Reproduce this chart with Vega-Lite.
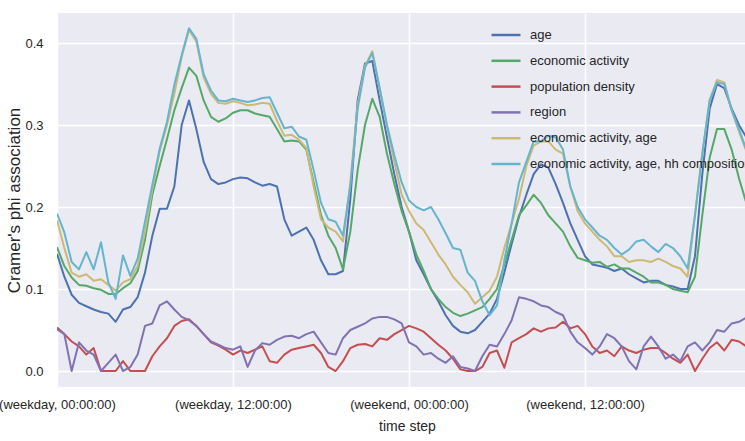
{
  "$schema": "https://vega.github.io/schema/vega-lite/v6.json",
  "autosize": {"type": "none"},
  "padding": {"left": 57, "top": 13, "right": 0, "bottom": 54},
  "width": 688,
  "height": 374,
  "background": "white",
  "config": {
    "view": {"fill": "#EAEAF2", "stroke": null},
    "font": "Liberation Sans",
    "axis": {
      "domain": false,
      "ticks": false,
      "tickSize": 0,
      "gridColor": "white",
      "gridWidth": 1.5,
      "labelColor": "#262626",
      "labelFontSize": 13,
      "labelFont": "Liberation Sans",
      "titleColor": "#262626",
      "titleFont": "Liberation Sans",
      "titleFontWeight": "normal"
    }
  },
  "data": {
    "values": [
      {"t":0,"a":0.143,"e":0.151,"p":0.053,"r":0.051,"ea":0.184,"eah":0.192},
      {"t":0.5,"a":0.115,"e":0.128,"p":0.045,"r":0.045,"ea":0.150,"eah":0.169},
      {"t":1,"a":0.093,"e":0.114,"p":0.036,"r":0.000,"ea":0.120,"eah":0.133},
      {"t":1.5,"a":0.083,"e":0.105,"p":0.030,"r":0.035,"ea":0.115,"eah":0.124},
      {"t":2,"a":0.079,"e":0.104,"p":0.020,"r":0.025,"ea":0.118,"eah":0.145},
      {"t":2.5,"a":0.075,"e":0.101,"p":0.028,"r":0.020,"ea":0.110,"eah":0.124},
      {"t":3,"a":0.072,"e":0.099,"p":0.000,"r":0.000,"ea":0.112,"eah":0.157},
      {"t":3.5,"a":0.070,"e":0.094,"p":0.000,"r":0.010,"ea":0.105,"eah":0.108},
      {"t":4,"a":0.060,"e":0.094,"p":0.000,"r":0.020,"ea":0.098,"eah":0.088},
      {"t":4.5,"a":0.075,"e":0.101,"p":0.012,"r":0.000,"ea":0.108,"eah":0.141},
      {"t":5,"a":0.078,"e":0.107,"p":0.000,"r":0.005,"ea":0.112,"eah":0.116},
      {"t":5.5,"a":0.090,"e":0.122,"p":0.000,"r":0.020,"ea":0.128,"eah":0.137},
      {"t":6,"a":0.120,"e":0.160,"p":0.000,"r":0.055,"ea":0.170,"eah":0.182},
      {"t":6.5,"a":0.165,"e":0.215,"p":0.018,"r":0.058,"ea":0.222,"eah":0.227},
      {"t":7,"a":0.198,"e":0.250,"p":0.030,"r":0.080,"ea":0.268,"eah":0.271},
      {"t":7.5,"a":0.198,"e":0.283,"p":0.040,"r":0.085,"ea":0.300,"eah":0.304},
      {"t":8,"a":0.225,"e":0.318,"p":0.055,"r":0.075,"ea":0.338,"eah":0.349},
      {"t":8.5,"a":0.300,"e":0.345,"p":0.061,"r":0.066,"ea":0.383,"eah":0.385},
      {"t":9,"a":0.330,"e":0.370,"p":0.063,"r":0.062,"ea":0.416,"eah":0.418},
      {"t":9.5,"a":0.295,"e":0.360,"p":0.055,"r":0.055,"ea":0.402,"eah":0.405},
      {"t":10,"a":0.255,"e":0.330,"p":0.045,"r":0.045,"ea":0.358,"eah":0.362},
      {"t":10.5,"a":0.234,"e":0.310,"p":0.035,"r":0.036,"ea":0.338,"eah":0.342},
      {"t":11,"a":0.228,"e":0.304,"p":0.031,"r":0.032,"ea":0.327,"eah":0.330},
      {"t":11.5,"a":0.230,"e":0.308,"p":0.026,"r":0.028,"ea":0.326,"eah":0.329},
      {"t":12,"a":0.234,"e":0.315,"p":0.020,"r":0.026,"ea":0.329,"eah":0.332},
      {"t":12.5,"a":0.236,"e":0.318,"p":0.025,"r":0.030,"ea":0.327,"eah":0.330},
      {"t":13,"a":0.235,"e":0.318,"p":0.022,"r":0.005,"ea":0.324,"eah":0.328},
      {"t":13.5,"a":0.230,"e":0.314,"p":0.026,"r":0.025,"ea":0.325,"eah":0.330},
      {"t":14,"a":0.226,"e":0.312,"p":0.030,"r":0.034,"ea":0.327,"eah":0.333},
      {"t":14.5,"a":0.228,"e":0.310,"p":0.012,"r":0.032,"ea":0.326,"eah":0.334},
      {"t":15,"a":0.225,"e":0.295,"p":0.010,"r":0.038,"ea":0.305,"eah":0.315},
      {"t":15.5,"a":0.185,"e":0.280,"p":0.020,"r":0.042,"ea":0.287,"eah":0.296},
      {"t":16,"a":0.165,"e":0.281,"p":0.026,"r":0.043,"ea":0.288,"eah":0.298},
      {"t":16.5,"a":0.170,"e":0.280,"p":0.028,"r":0.040,"ea":0.282,"eah":0.286},
      {"t":17,"a":0.175,"e":0.270,"p":0.030,"r":0.045,"ea":0.272,"eah":0.282},
      {"t":17.5,"a":0.160,"e":0.230,"p":0.032,"r":0.048,"ea":0.225,"eah":0.245},
      {"t":18,"a":0.135,"e":0.190,"p":0.022,"r":0.035,"ea":0.185,"eah":0.205},
      {"t":18.5,"a":0.118,"e":0.165,"p":0.005,"r":0.022,"ea":0.175,"eah":0.185},
      {"t":19,"a":0.118,"e":0.150,"p":0.000,"r":0.020,"ea":0.170,"eah":0.182},
      {"t":19.5,"a":0.122,"e":0.124,"p":0.012,"r":0.040,"ea":0.158,"eah":0.165},
      {"t":20,"a":0.210,"e":0.170,"p":0.028,"r":0.050,"ea":0.230,"eah":0.225},
      {"t":20.5,"a":0.330,"e":0.245,"p":0.032,"r":0.054,"ea":0.325,"eah":0.320},
      {"t":21,"a":0.375,"e":0.300,"p":0.033,"r":0.058,"ea":0.372,"eah":0.370},
      {"t":21.5,"a":0.378,"e":0.332,"p":0.030,"r":0.064,"ea":0.390,"eah":0.388},
      {"t":22,"a":0.330,"e":0.310,"p":0.040,"r":0.066,"ea":0.345,"eah":0.345},
      {"t":22.5,"a":0.285,"e":0.265,"p":0.038,"r":0.066,"ea":0.298,"eah":0.300},
      {"t":23,"a":0.240,"e":0.228,"p":0.045,"r":0.063,"ea":0.255,"eah":0.263},
      {"t":23.5,"a":0.200,"e":0.195,"p":0.050,"r":0.058,"ea":0.215,"eah":0.230},
      {"t":24,"a":0.170,"e":0.170,"p":0.055,"r":0.035,"ea":0.195,"eah":0.208},
      {"t":24.5,"a":0.135,"e":0.142,"p":0.052,"r":0.030,"ea":0.180,"eah":0.200},
      {"t":25,"a":0.118,"e":0.122,"p":0.048,"r":0.020,"ea":0.172,"eah":0.196},
      {"t":25.5,"a":0.100,"e":0.100,"p":0.040,"r":0.022,"ea":0.157,"eah":0.200},
      {"t":26,"a":0.085,"e":0.088,"p":0.032,"r":0.015,"ea":0.142,"eah":0.185},
      {"t":26.5,"a":0.068,"e":0.078,"p":0.025,"r":0.010,"ea":0.130,"eah":0.168},
      {"t":27,"a":0.055,"e":0.071,"p":0.015,"r":0.018,"ea":0.115,"eah":0.150},
      {"t":27.5,"a":0.048,"e":0.067,"p":0.002,"r":0.005,"ea":0.105,"eah":0.148},
      {"t":28,"a":0.046,"e":0.070,"p":0.000,"r":0.003,"ea":0.096,"eah":0.120},
      {"t":28.5,"a":0.050,"e":0.074,"p":0.000,"r":0.000,"ea":0.082,"eah":0.110},
      {"t":29,"a":0.060,"e":0.078,"p":0.005,"r":0.018,"ea":0.090,"eah":0.085},
      {"t":29.5,"a":0.070,"e":0.088,"p":0.022,"r":0.032,"ea":0.098,"eah":0.068},
      {"t":30,"a":0.088,"e":0.100,"p":0.025,"r":0.030,"ea":0.115,"eah":0.080},
      {"t":30.5,"a":0.120,"e":0.130,"p":0.004,"r":0.045,"ea":0.150,"eah":0.135},
      {"t":31,"a":0.155,"e":0.160,"p":0.035,"r":0.062,"ea":0.180,"eah":0.180},
      {"t":31.5,"a":0.188,"e":0.190,"p":0.040,"r":0.090,"ea":0.210,"eah":0.230},
      {"t":32,"a":0.215,"e":0.202,"p":0.045,"r":0.088,"ea":0.250,"eah":0.255},
      {"t":32.5,"a":0.240,"e":0.215,"p":0.052,"r":0.085,"ea":0.275,"eah":0.280},
      {"t":33,"a":0.252,"e":0.205,"p":0.048,"r":0.080,"ea":0.280,"eah":0.280},
      {"t":33.5,"a":0.248,"e":0.190,"p":0.052,"r":0.078,"ea":0.280,"eah":0.287},
      {"t":34,"a":0.228,"e":0.180,"p":0.053,"r":0.072,"ea":0.270,"eah":0.285},
      {"t":34.5,"a":0.205,"e":0.170,"p":0.060,"r":0.068,"ea":0.265,"eah":0.270},
      {"t":35,"a":0.180,"e":0.152,"p":0.052,"r":0.048,"ea":0.225,"eah":0.225},
      {"t":35.5,"a":0.160,"e":0.138,"p":0.055,"r":0.035,"ea":0.195,"eah":0.200},
      {"t":36,"a":0.140,"e":0.135,"p":0.045,"r":0.028,"ea":0.180,"eah":0.185},
      {"t":36.5,"a":0.130,"e":0.132,"p":0.030,"r":0.020,"ea":0.170,"eah":0.175},
      {"t":37,"a":0.128,"e":0.133,"p":0.022,"r":0.030,"ea":0.160,"eah":0.165},
      {"t":37.5,"a":0.126,"e":0.127,"p":0.025,"r":0.045,"ea":0.152,"eah":0.160},
      {"t":38,"a":0.122,"e":0.130,"p":0.018,"r":0.040,"ea":0.140,"eah":0.150},
      {"t":38.5,"a":0.125,"e":0.125,"p":0.030,"r":0.030,"ea":0.140,"eah":0.142},
      {"t":39,"a":0.118,"e":0.125,"p":0.025,"r":0.012,"ea":0.133,"eah":0.148},
      {"t":39.5,"a":0.113,"e":0.120,"p":0.022,"r":0.002,"ea":0.135,"eah":0.158},
      {"t":40,"a":0.108,"e":0.115,"p":0.026,"r":0.030,"ea":0.135,"eah":0.160},
      {"t":40.5,"a":0.110,"e":0.108,"p":0.028,"r":0.042,"ea":0.133,"eah":0.152},
      {"t":41,"a":0.110,"e":0.108,"p":0.028,"r":0.030,"ea":0.137,"eah":0.145},
      {"t":41.5,"a":0.105,"e":0.105,"p":0.022,"r":0.015,"ea":0.133,"eah":0.155},
      {"t":42,"a":0.103,"e":0.100,"p":0.015,"r":0.020,"ea":0.128,"eah":0.150},
      {"t":42.5,"a":0.100,"e":0.098,"p":0.010,"r":0.012,"ea":0.125,"eah":0.140},
      {"t":43,"a":0.100,"e":0.096,"p":0.020,"r":0.030,"ea":0.115,"eah":0.125},
      {"t":43.5,"a":0.140,"e":0.115,"p":0.000,"r":0.035,"ea":0.190,"eah":0.190},
      {"t":44,"a":0.240,"e":0.190,"p":0.015,"r":0.025,"ea":0.265,"eah":0.265},
      {"t":44.5,"a":0.320,"e":0.260,"p":0.028,"r":0.035,"ea":0.330,"eah":0.330},
      {"t":45,"a":0.350,"e":0.295,"p":0.035,"r":0.050,"ea":0.355,"eah":0.352},
      {"t":45.5,"a":0.345,"e":0.295,"p":0.025,"r":0.048,"ea":0.352,"eah":0.350},
      {"t":46,"a":0.320,"e":0.270,"p":0.038,"r":0.058,"ea":0.318,"eah":0.318},
      {"t":46.5,"a":0.300,"e":0.235,"p":0.036,"r":0.060,"ea":0.292,"eah":0.295},
      {"t":47,"a":0.285,"e":0.205,"p":0.030,"r":0.065,"ea":0.268,"eah":0.270}
    ]
  },
  "transform": [
    {"fold": ["a", "e", "p", "r", "ea", "eah"], "as": ["series", "value"]}
  ],
  "mark": {"type": "line", "strokeWidth": 2, "clip": true, "strokeJoin": "round"},
  "encoding": {
    "x": {
      "field": "t",
      "type": "quantitative",
      "scale": {"domain": [0, 46.91], "nice": false, "zero": false},
      "axis": {
        "values": [0, 12, 24, 36],
        "labelFlush": false,
        "labelPadding": 11,
        "labelExpr": "datum.value == 0 ? '(weekday, 00:00:00)' : datum.value == 12 ? '(weekday, 12:00:00)' : datum.value == 24 ? '(weekend, 00:00:00)' : '(weekend, 12:00:00)'",
        "title": "time step",
        "titleFontSize": 14,
        "titlePadding": 8,
        "titleX": 350
      }
    },
    "y": {
      "field": "value",
      "type": "quantitative",
      "scale": {"domain": [-0.0195, 0.4366], "nice": false, "zero": false},
      "axis": {
        "values": [0, 0.1, 0.2, 0.3, 0.4],
        "format": ".1f",
        "labelPadding": 14,
        "title": "Cramer's phi association",
        "titleFontSize": 17,
        "titlePadding": 1
      }
    },
    "color": {
      "field": "series",
      "type": "nominal",
      "sort": null,
      "scale": {
        "domain": ["a", "e", "p", "r", "ea", "eah"],
        "range": ["#4C72B0", "#55A868", "#C44E52", "#8172B2", "#CCB974", "#64B5CD"]
      },
      "legend": {
        "title": null,
        "orient": "none",
        "legendX": 433,
        "legendY": 6,
        "padding": 0,
        "symbolType": "stroke",
        "symbolSize": 841,
        "symbolStrokeWidth": 2.5,
        "labelFontSize": 13,
        "labelFont": "Liberation Sans",
        "labelColor": "#262626",
        "labelOffset": 8,
        "rowPadding": 2.8,
        "labelLimit": 400,
        "labelExpr": "datum.label == 'a' ? 'age' : datum.label == 'e' ? 'economic activity' : datum.label == 'p' ? 'population density' : datum.label == 'r' ? 'region' : datum.label == 'ea' ? 'economic activity, age' : 'economic activity, age, hh composition'"
      }
    }
  }
}
